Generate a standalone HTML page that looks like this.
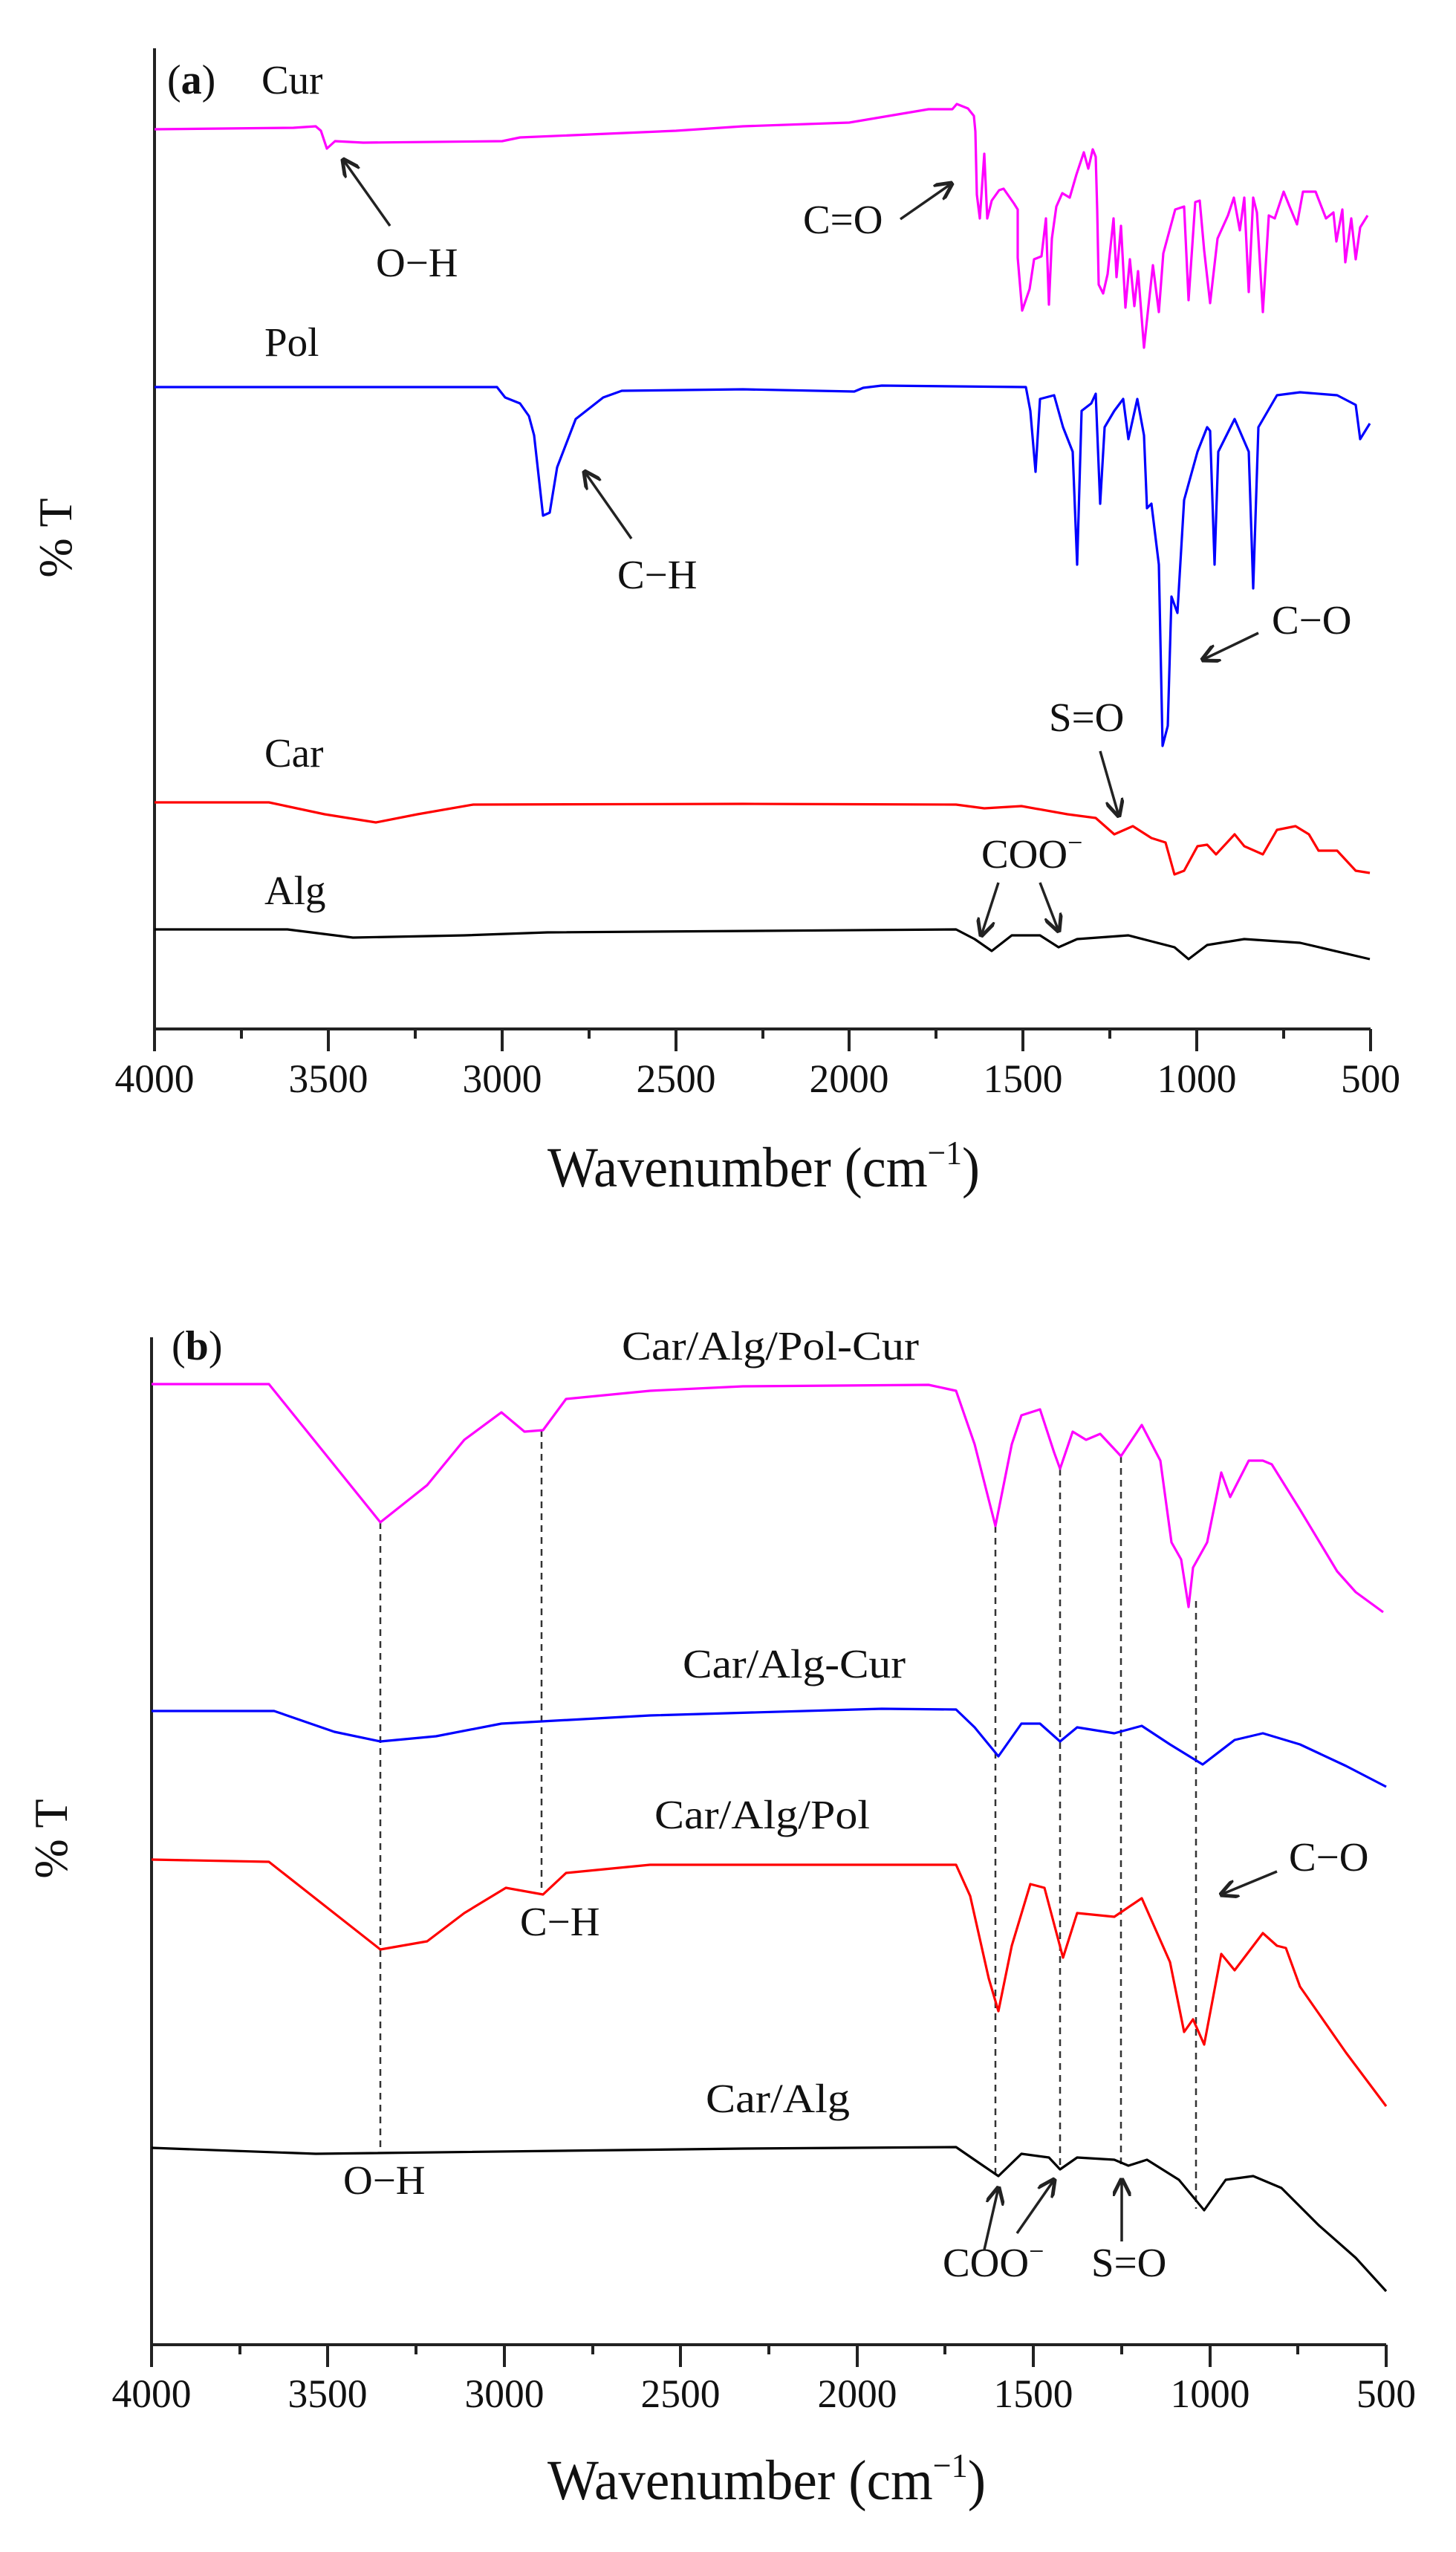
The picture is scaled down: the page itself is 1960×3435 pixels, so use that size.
<!DOCTYPE html>
<html><head><meta charset="utf-8"><style>
html,body{margin:0;padding:0;background:#fff;}
svg{display:block;}
text{font-family:"Liberation Serif",serif;fill:#111;}
.t{font-family:"Liberation Sans",sans-serif;font-size:54px;}
.s{fill:none;stroke-width:3.2;stroke-linejoin:round;}
.ax{stroke:#222;stroke-width:4;fill:none;}
.ar{stroke:#222;stroke-width:3.5;fill:none;}
.d{stroke:#333;stroke-width:2.5;stroke-dasharray:9,7;fill:none;}
</style></head><body>
<svg width="1960" height="3435" viewBox="0 0 1960 3435" xmlns="http://www.w3.org/2000/svg">
<defs><marker id="ah" viewBox="0 0 10 10" refX="9" refY="5" markerWidth="7" markerHeight="7" orient="auto"><path d="M0,0 L10,5 L0,10" fill="none" stroke="#222" stroke-width="2"/></marker></defs>

<!-- ===== Panel a ===== -->
<path class="ax" d="M208,65 L208,1385 L1845,1385"/>
<g class="ax" style="stroke-width:4">
<path d="M208,1385 v30 M442,1385 v30 M676,1385 v30 M910,1385 v30 M1143,1385 v30 M1377,1385 v30 M1611,1385 v30 M1845,1385 v30"/>
<path d="M325,1385 v13 M559,1385 v13 M793,1385 v13 M1027,1385 v13 M1260,1385 v13 M1494,1385 v13 M1728,1385 v13"/>
</g>
<g class="t" text-anchor="middle">
<text x="208" y="1470" textLength="107" lengthAdjust="spacingAndGlyphs">4000</text>
<text x="442" y="1470" textLength="107" lengthAdjust="spacingAndGlyphs">3500</text>
<text x="676" y="1470" textLength="107" lengthAdjust="spacingAndGlyphs">3000</text>
<text x="910" y="1470" textLength="107" lengthAdjust="spacingAndGlyphs">2500</text>
<text x="1143" y="1470" textLength="107" lengthAdjust="spacingAndGlyphs">2000</text>
<text x="1377" y="1470" textLength="107" lengthAdjust="spacingAndGlyphs">1500</text>
<text x="1611" y="1470" textLength="107" lengthAdjust="spacingAndGlyphs">1000</text>
<text x="1845" y="1470" textLength="80" lengthAdjust="spacingAndGlyphs">500</text>
</g>
<text x="737" y="1597" font-size="76" textLength="582" lengthAdjust="spacingAndGlyphs">Wavenumber (cm<tspan font-size="46" dy="-30">−1</tspan><tspan dy="30">)</tspan></text>
<text transform="translate(96,724) rotate(-90)" font-size="64" text-anchor="middle">% T</text>

<text x="225" y="126" font-size="56">(<tspan font-weight="bold">a</tspan>)</text>
<text x="352" y="126" font-size="55">Cur</text>
<text x="356" y="479" font-size="55">Pol</text>
<text x="356" y="1032" font-size="55">Car</text>
<text x="356" y="1217" font-size="55">Alg</text>
<text x="506" y="372" font-size="55">O−H</text>
<text x="1081" y="314" font-size="55">C=O</text>
<text x="831" y="792" font-size="55">C−H</text>
<text x="1712" y="853" font-size="55">C−O</text>
<text x="1412" y="984" font-size="55">S=O</text>
<text x="1321" y="1168" font-size="55">COO<tspan font-size="36" dy="-22">−</tspan></text>

<g class="ar" marker-end="url(#ah)">
<path d="M525,304 L462,215"/>
<path d="M1212,295 L1281,247"/>
<path d="M850,725 L787,635"/>
<path d="M1694,852 L1619,888"/>
<path d="M1481,1011 L1506,1098"/>
<path d="M1344,1188 L1321,1259"/>
<path d="M1400,1188 L1425,1253"/>
</g>

<path class="s" stroke="#ff00ff" d="M208,174 L395,172 L425,170 L432,176 L440,200 L451,190 L489,192 L676,190 L700,185 L910,176 L1000,170 L1143,165 L1250,147 L1282,147 L1288,140 L1303,146 L1311,156 L1313,177 L1315,262 L1319,294 L1325,207 L1329,294 L1335,270 L1345,256 L1351,254 L1365,274 L1370,282 L1370,347 L1376,418 L1386,389 L1392,349 L1402,345 L1408,294 L1412,410 L1416,321 L1422,278 L1430,260 L1440,266 L1449,235 L1459,205 L1465,227 L1471,201 L1475,211 L1477,282 L1479,383 L1485,395 L1491,369 L1499,294 L1503,373 L1509,304 L1515,414 L1521,349 L1527,412 L1532,365 L1540,468 L1546,412 L1552,357 L1560,420 L1566,341 L1582,282 L1594,278 L1600,404 L1609,272 L1615,270 L1621,337 L1629,408 L1639,321 L1653,290 L1661,266 L1669,310 L1675,266 L1681,393 L1687,266 L1692,286 L1700,420 L1708,290 L1716,294 L1728,258 L1736,278 L1746,302 L1754,258 L1771,258 L1785,294 L1795,286 L1799,325 L1807,282 L1811,353 L1819,294 L1825,349 L1831,306 L1841,290"/>

<path class="s" stroke="#0000ff" d="M208,521 L669,521 L680,535 L700,543 L712,560 L719,586 L731,694 L740,690 L750,629 L775,564 L812,535 L837,526 L1000,524 L1150,527 L1162,522 L1187,519 L1381,521 L1387,553 L1394,635 L1400,537 L1419,532 L1431,575 L1444,608 L1450,760 L1456,553 L1469,543 L1475,530 L1481,678 L1487,575 L1500,553 L1512,537 L1519,591 L1531,537 L1540,586 L1544,684 L1550,678 L1560,760 L1565,1004 L1572,977 L1577,803 L1585,825 L1594,673 L1612,608 L1625,575 L1629,580 L1635,760 L1640,608 L1662,564 L1681,608 L1687,792 L1694,575 L1719,532 L1750,528 L1800,532 L1825,545 L1831,591 L1844,570"/>

<path class="s" stroke="#ff0000" d="M208,1080 L362,1080 L437,1096 L506,1107 L562,1096 L637,1083 L1000,1082 L1287,1083 L1325,1088 L1375,1085 L1437,1096 L1475,1101 L1500,1123 L1525,1112 L1550,1128 L1569,1134 L1581,1177 L1594,1172 L1612,1139 L1625,1137 L1637,1150 L1662,1123 L1675,1139 L1700,1150 L1719,1117 L1744,1112 L1762,1123 L1775,1145 L1800,1145 L1825,1172 L1844,1175"/>

<path class="s" stroke="#000" d="M208,1251 L387,1251 L475,1262 L625,1259 L737,1255 L1287,1251 L1312,1264 L1335,1280 L1362,1259 L1400,1259 L1425,1275 L1450,1264 L1519,1259 L1550,1267 L1581,1275 L1600,1291 L1625,1272 L1675,1264 L1750,1269 L1844,1291"/>

<!-- ===== Panel b ===== -->
<path class="ax" d="M204,1800 L204,3156 L1866,3156"/>
<g class="ax">
<path d="M204,3156 v30 M441,3156 v30 M679,3156 v30 M916,3156 v30 M1154,3156 v30 M1391,3156 v30 M1629,3156 v30 M1866,3156 v30"/>
<path d="M323,3156 v13 M560,3156 v13 M798,3156 v13 M1035,3156 v13 M1272,3156 v13 M1510,3156 v13 M1747,3156 v13"/>
</g>
<g class="t" text-anchor="middle">
<text x="204" y="3240" textLength="107" lengthAdjust="spacingAndGlyphs">4000</text>
<text x="441" y="3240" textLength="107" lengthAdjust="spacingAndGlyphs">3500</text>
<text x="679" y="3240" textLength="107" lengthAdjust="spacingAndGlyphs">3000</text>
<text x="916" y="3240" textLength="107" lengthAdjust="spacingAndGlyphs">2500</text>
<text x="1154" y="3240" textLength="107" lengthAdjust="spacingAndGlyphs">2000</text>
<text x="1391" y="3240" textLength="107" lengthAdjust="spacingAndGlyphs">1500</text>
<text x="1629" y="3240" textLength="107" lengthAdjust="spacingAndGlyphs">1000</text>
<text x="1866" y="3240" textLength="80" lengthAdjust="spacingAndGlyphs">500</text>
</g>
<text x="737" y="3364" font-size="76" textLength="590" lengthAdjust="spacingAndGlyphs">Wavenumber (cm<tspan font-size="46" dy="-30">−1</tspan><tspan dy="30">)</tspan></text>
<text transform="translate(90,2475) rotate(-90)" font-size="64" text-anchor="middle">% T</text>

<text x="231" y="1830" font-size="56">(<tspan font-weight="bold">b</tspan>)</text>
<text x="837" y="1830" font-size="55" textLength="400" lengthAdjust="spacingAndGlyphs">Car/Alg/Pol-Cur</text>
<text x="919" y="2258" font-size="55" textLength="300" lengthAdjust="spacingAndGlyphs">Car/Alg-Cur</text>
<text x="881" y="2461" font-size="55" textLength="290" lengthAdjust="spacingAndGlyphs">Car/Alg/Pol</text>
<text x="950" y="2843" font-size="55" textLength="194" lengthAdjust="spacingAndGlyphs">Car/Alg</text>
<text x="700" y="2605" font-size="55">C−H</text>
<text x="462" y="2953" font-size="55">O−H</text>
<text x="1735" y="2518" font-size="55">C−O</text>
<text x="1269" y="3064" font-size="55">COO<tspan font-size="36" dy="-22">−</tspan></text>
<text x="1469" y="3064" font-size="55">S=O</text>

<g class="ar" marker-end="url(#ah)">
<path d="M1719,2519 L1644,2550"/>
<path d="M1325,3028 L1344,2945"/>
<path d="M1369,3006 L1419,2934"/>
<path d="M1510,3017 L1510,2934"/>
</g>

<g class="d">
<path d="M512,2049 L512,2891"/>
<path d="M729,1925 L729,2541"/>
<path d="M1340,2054 L1340,2929"/>
<path d="M1427,1977 L1427,2920"/>
<path d="M1509,1960 L1509,2915"/>
<path d="M1610,2155 L1610,2973"/>
</g>

<path class="s" stroke="#ff00ff" d="M204,1863 L362,1863 L512,2049 L575,1999 L625,1938 L675,1901 L706,1927 L731,1925 L762,1883 L875,1872 L1000,1866 L1250,1864 L1287,1872 L1312,1944 L1340,2054 L1362,1944 L1375,1905 L1400,1897 L1419,1955 L1427,1977 L1444,1927 L1462,1938 L1481,1930 L1509,1960 L1537,1918 L1562,1966 L1577,2076 L1590,2099 L1600,2163 L1606,2110 L1625,2076 L1644,1982 L1656,2015 L1681,1966 L1700,1966 L1712,1971 L1750,2032 L1800,2115 L1825,2143 L1862,2170"/>

<path class="s" stroke="#0000ff" d="M204,2303 L369,2303 L450,2331 L512,2344 L587,2337 L675,2320 L875,2309 L1187,2300 L1287,2301 L1312,2325 L1344,2364 L1375,2320 L1400,2320 L1427,2344 L1450,2325 L1500,2333 L1537,2323 L1575,2348 L1619,2375 L1662,2342 L1700,2333 L1750,2348 L1812,2377 L1866,2405"/>

<path class="s" stroke="#ff0000" d="M204,2503 L362,2506 L512,2624 L575,2613 L625,2575 L681,2541 L731,2550 L762,2521 L875,2510 L1287,2510 L1306,2552 L1331,2663 L1344,2707 L1362,2619 L1387,2536 L1406,2541 L1431,2635 L1450,2575 L1500,2580 L1537,2555 L1575,2641 L1594,2735 L1606,2718 L1621,2752 L1644,2630 L1662,2652 L1700,2602 L1719,2619 L1731,2622 L1750,2674 L1812,2763 L1866,2835"/>

<path class="s" stroke="#000" d="M204,2891 L425,2899 L1000,2892 L1287,2890 L1319,2912 L1344,2929 L1375,2899 L1412,2904 L1427,2920 L1450,2904 L1500,2907 L1519,2915 L1544,2907 L1587,2934 L1621,2975 L1650,2934 L1687,2929 L1725,2945 L1775,2995 L1825,3039 L1866,3084"/>
</svg>
</body></html>
